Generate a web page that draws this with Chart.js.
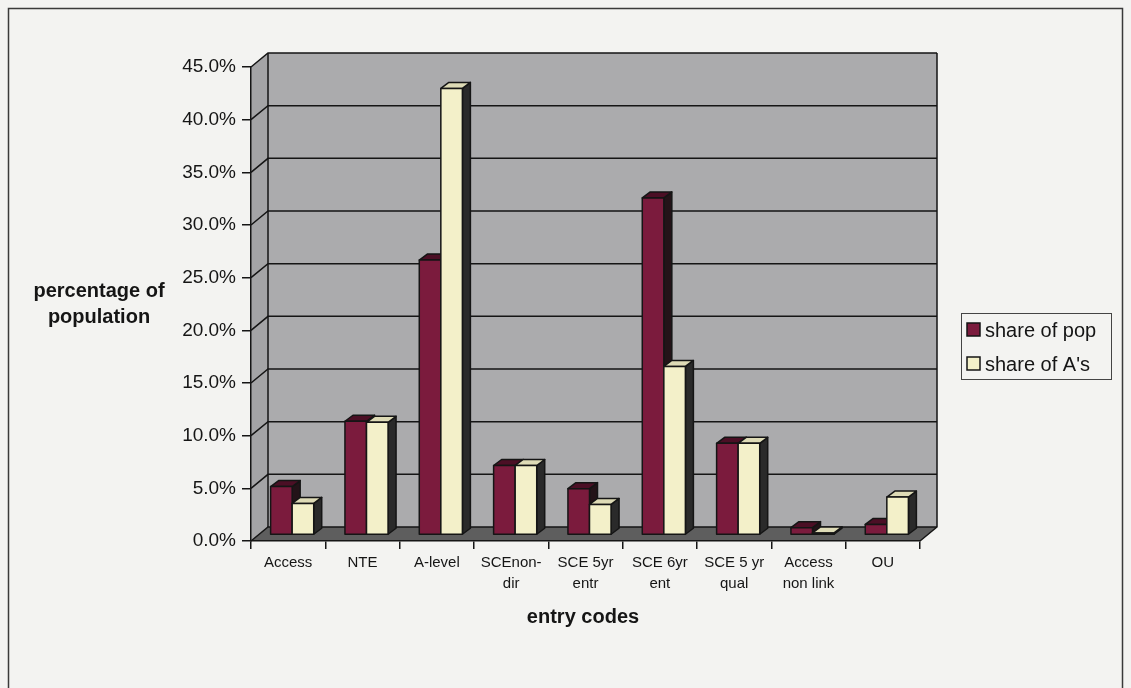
<!DOCTYPE html>
<html>
<head>
<meta charset="utf-8">
<script src="https://cdn.jsdelivr.net/npm/chart.js@4.4.1/dist/chart.umd.min.js"></script>
<style>
  html, body { margin: 0; padding: 0; background: #f3f3f1; }
  canvas { display: block; }
</style>
</head>
<body>
<canvas id="chart" width="1131" height="688"></canvas>
<script>
// Entry codes and the two shares (percent)
const categories = [
  ['Access'], ['NTE'], ['A-level'], ['SCEnon-', 'dir'], ['SCE 5yr', 'entr'],
  ['SCE 6yr', 'ent'], ['SCE 5 yr', 'qual'], ['Access', 'non link'], ['OU']
];
const shareOfPop = [4.6, 10.8, 26.1, 6.6, 4.4, 32.0, 8.7, 0.7, 1.0];
const shareOfAs  = [3.0, 10.7, 42.4, 6.6, 2.9, 16.0, 8.7, 0.2, 3.6];
const seriesNames = ['share of pop', "share of A's"];
const yTickValues = [0, 5, 10, 15, 20, 25, 30, 35, 40, 45];

const FONT = "'Liberation Sans', Arial, Helvetica, sans-serif";
const INK = '#151515';

// depth of the 3-D box, and of each column inside it
const DX = 17, DY = 14;
const BAR_DX = 8, BAR_DY = 6;
const SHIFT_X = 4, SHIFT_Y = -6;

const palette = [
  { front: '#7b1b3d', top: '#4b0f25', side: '#231318' },
  { front: '#f3f0c9', top: '#dedbb6', side: '#2a2a2a' }
];

function poly(ctx, pts, fill) {
  ctx.beginPath();
  ctx.moveTo(pts[0][0], pts[0][1]);
  for (let i = 1; i < pts.length; i++) ctx.lineTo(pts[i][0], pts[i][1]);
  ctx.closePath();
  ctx.fillStyle = fill;
  ctx.fill();
  ctx.stroke();
}

// walls, floor and back-wall grid
const scene = {
  id: 'scene',
  beforeDraw(chart) {
    const { ctx, chartArea: a, scales: { y } } = chart;
    const L = a.left, R = a.right;
    const B = y.getPixelForValue(0), T = y.getPixelForValue(45);
    ctx.save();
    ctx.fillStyle = '#f3f3f1';
    ctx.fillRect(0, 0, chart.width, chart.height);

    // page frame
    ctx.strokeStyle = '#3a3a3a';
    ctx.lineWidth = 1.5;
    ctx.strokeRect(8.5, 8.5, 1114, 700);

    ctx.lineWidth = 1.5;
    ctx.strokeStyle = INK;
    ctx.lineJoin = 'miter';

    // back wall
    ctx.fillStyle = '#ababad';
    ctx.fillRect(L + DX, T - DY, R - L, B - T);
    // side wall
    ctx.fillStyle = '#a4a4a6';
    ctx.beginPath();
    ctx.moveTo(L, T); ctx.lineTo(L + DX, T - DY); ctx.lineTo(L + DX, B - DY); ctx.lineTo(L, B);
    ctx.closePath(); ctx.fill();
    // floor
    ctx.fillStyle = '#5e5e5e';
    ctx.beginPath();
    ctx.moveTo(L, B); ctx.lineTo(R, B); ctx.lineTo(R + DX, B - DY); ctx.lineTo(L + DX, B - DY);
    ctx.closePath(); ctx.fill();

    // gridlines: across the side wall, then along the back wall
    yTickValues.forEach(v => {
      const py = y.getPixelForValue(v);
      ctx.beginPath();
      ctx.moveTo(L, py); ctx.lineTo(L + DX, py - DY); ctx.lineTo(R + DX, py - DY);
      ctx.stroke();
    });
    // box edges
    ctx.beginPath();
    ctx.moveTo(L + DX, T - DY); ctx.lineTo(L + DX, B - DY);
    ctx.moveTo(R + DX, T - DY); ctx.lineTo(R + DX, B - DY); ctx.lineTo(R, B);
    ctx.stroke();
    ctx.restore();
  },
  beforeDatasetsDraw(chart) {
    chart.ctx.save();
    chart.ctx.translate(SHIFT_X, SHIFT_Y);
  },
  afterDatasetsDraw(chart) {
    const ctx = chart.ctx;
    ctx.lineWidth = 1.5;
    ctx.strokeStyle = INK;
    ctx.lineJoin = 'round';
    categories.forEach((_, i) => {
      chart.data.datasets.forEach((ds, d) => {
        const el = chart.getDatasetMeta(d).data[i];
        const { x, y, base, width } = el.getProps(['x', 'y', 'base', 'width'], true);
        const l = x - width / 2, r = x + width / 2;
        const c = palette[d];
        poly(ctx, [[r, y], [r + BAR_DX, y - BAR_DY], [r + BAR_DX, base - BAR_DY], [r, base]], c.side);
        poly(ctx, [[l, y], [l + BAR_DX, y - BAR_DY], [r + BAR_DX, y - BAR_DY], [r, y]], c.top);
        poly(ctx, [[l, y], [r, y], [r, base], [l, base]], c.front);
      });
    });
    ctx.restore();
  },
  afterDraw(chart) {
    const ctx = chart.ctx;
    ctx.save();
    ctx.fillStyle = INK;
    ctx.textAlign = 'center';
    ctx.textBaseline = 'middle';
    ctx.font = 'bold 20px ' + FONT;
    ctx.fillText('percentage of', 99, 291);
    ctx.fillText('population', 99, 317);
    ctx.fillText('entry codes', 583, 617);

    // legend
    ctx.strokeStyle = '#444';
    ctx.lineWidth = 1;
    ctx.strokeRect(961.5, 313.5, 150, 66);
    ctx.textAlign = 'left';
    ctx.font = '20px ' + FONT;
    const rows = [330, 364];
    chart.data.datasets.forEach((ds, d) => {
      ctx.fillStyle = palette[d].front;
      ctx.fillRect(967, rows[d] - 7, 13, 13);
      ctx.strokeStyle = INK;
      ctx.lineWidth = 1.5;
      ctx.strokeRect(967, rows[d] - 7, 13, 13);
      ctx.fillStyle = INK;
      ctx.fillText(ds.label, 985, rows[d] + 1);
    });
    ctx.restore();
  }
};

new Chart(document.getElementById('chart'), {
  type: 'bar',
  data: {
    labels: categories,
    datasets: [
      { label: seriesNames[0], data: shareOfPop, backgroundColor: palette[0].front, borderColor: INK, borderWidth: 1.5, clip: false },
      { label: seriesNames[1], data: shareOfAs,  backgroundColor: palette[1].front, borderColor: INK, borderWidth: 1.5, clip: false }
    ]
  },
  options: {
    responsive: false,
    animation: false,
    devicePixelRatio: 1,
    layout: { padding: { top: 67, right: 211, bottom: 0, left: 0 } },
    datasets: { bar: { categoryPercentage: 0.58, barPercentage: 1.0 } },
    plugins: { legend: { display: false }, tooltip: { enabled: false } },
    scales: {
      x: {
        offset: true,
        afterFit(scale) { scale.height = 147; },
        grid: { drawOnChartArea: false, drawTicks: true, tickLength: 8, color: INK, lineWidth: 1.5 },
        border: { display: true, color: INK, width: 1.5 },
        ticks: {
          autoSkip: false, maxRotation: 0, minRotation: 0, padding: 3,
          color: INK, font: { family: FONT, size: 15, lineHeight: 1.4 }
        }
      },
      y: {
        min: 0, max: 45,
        afterFit(scale) { scale.width = 251; },
        afterBuildTicks(scale) { scale.ticks = yTickValues.map(v => ({ value: v })); },
        grid: { drawOnChartArea: false, drawTicks: true, tickLength: 9, color: INK, lineWidth: 1.5 },
        border: { display: true, color: INK, width: 1.5 },
        ticks: {
          padding: 6, color: INK,
          font: { family: FONT, size: 19 },
          callback: v => v.toFixed(1) + '%'
        }
      }
    }
  },
  plugins: [scene]
});
</script>
</body>
</html>
